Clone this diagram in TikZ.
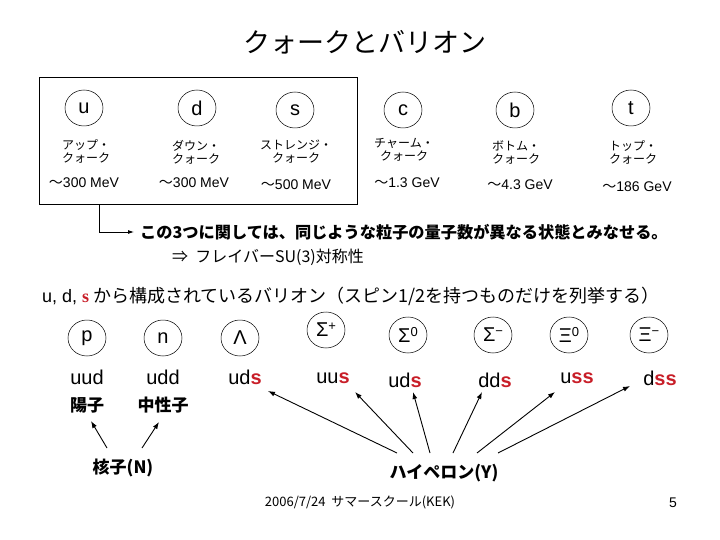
\documentclass[tikz,border=0pt]{standalone}
\usepackage{fontspec}
\setmainfont{Liberation Sans}
\newfontfamily\jp{Noto Sans CJK JP}
\newfontfamily\tms{Liberation Serif}
\usetikzlibrary{shapes.geometric,arrows.meta}
\definecolor{sred}{RGB}{200,30,40}
\newcommand{\rs}[1]{\textcolor{sred}{\bfseries #1}}
\newcommand{\upidx}[1]{\raisebox{6pt}{\fontsize{13}{13}\selectfont #1}}
\tikzset{
  circ/.style={ellipse, draw, line width=0.5pt, minimum width=38pt, minimum height=36pt, inner sep=0pt, font=\fontsize{20}{20}\selectfont},
  qname/.style={align=center, inner sep=0pt, font=\jp\fontsize{12}{13}\selectfont},
  mass/.style={inner sep=0pt, font=\fontsize{14}{14}\selectfont},
  comp/.style={inner sep=0pt, font=\fontsize{20}{20}\selectfont},
  jpb/.style={inner sep=0pt, font=\jp\bfseries\fontsize{17}{17}\selectfont},
  arr/.style={-{Latex[length=7pt,width=5pt]}, line width=0.9pt},
}
\begin{document}
\begin{tikzpicture}[x=1pt,y=-1pt]
\useasboundingbox (0,0) rectangle (720,540);
% title
\node[inner sep=0pt, font=\jp\fontsize{27}{27}\selectfont] (title) at (365,42) {クォークとバリオン};
% box
\node[draw, line width=0.8pt, minimum width=318pt, minimum height=127pt, inner sep=0pt] (qbox) at (198.5,140.5) {};
% quarks
\node[circ] (qu) at (84,108) {u};
\node[circ] (qd) at (197,108) {d};
\node[circ] (qs) at (295,110) {s};
\node[circ] (qc) at (403,110) {c};
\node[circ] (qb) at (515,110) {b};
\node[circ] (qt) at (631,108) {t};
\node[qname] (nu) at (86,151) {アップ・\\クォーク};
\node[qname] (nd) at (196,152) {ダウン・\\クォーク};
\node[qname] (ns) at (296,152) {ストレンジ・\\クォーク};
\node[qname] (nc) at (404,150) {チャーム・\\クォーク};
\node[qname] (nb) at (516,152) {ボトム・\\クォーク};
\node[qname] (nt) at (633,152) {トップ・\\クォーク};
\node[mass] (mu) at (84,183) {{\jp ～}300 MeV};
\node[mass] (md) at (194,183) {{\jp ～}300 MeV};
\node[mass] (ms) at (296,185) {{\jp ～}500 MeV};
\node[mass] (mc) at (407,183) {{\jp ～}1.3 GeV};
\node[mass] (mb) at (520,185) {{\jp ～}4.3 GeV};
\node[mass] (mt) at (637,187) {{\jp ～}186 GeV};
% flavour text
\node[anchor=west, inner sep=0pt, font=\jp\bfseries\fontsize{16.2}{16}\selectfont] (txt1) at (140,232) {この3つに関しては、同じような粒子の量子数が異なる状態とみなせる。};
\node[anchor=west, inner sep=0pt, font=\jp\fontsize{16}{16}\selectfont] (txt2) at (172,257) {⇒\ \ フレイバーSU(3)対称性};
\draw[-{Latex[length=6pt,width=4pt]}, line width=0.8pt, shorten >=6pt] ([xshift=60pt]qbox.south west) |- (txt1.west);
% heading
\node[anchor=west, inner sep=0pt, font=\jp\fontsize{18}{18}\selectfont] (head) at (42,296) {{\rmfamily u, d, }{\tms\bfseries\color{sred}s} から構成されているバリオン（スピン1/2を持つものだけを列挙する）};
% baryons
\node[circ] (bp) at (87,338) {p};
\node[circ] (bn) at (163,338) {n};
\node[circ] (bl) at (240,338) {Λ};
\node[circ] (bsp) at (326,330) {Σ\upidx{+}};
\node[circ] (bs0) at (408,335) {Σ\upidx{0}};
\node[circ] (bsm) at (493,335) {Σ\upidx{−}};
\node[circ] (bx0) at (569,335) {Ξ\upidx{0}};
\node[circ] (bxm) at (649,335) {Ξ\upidx{−}};
\node[comp] (cp) at (87,377) {uud};
\node[comp] (cn) at (163,377) {udd};
\node[comp] (cl) at (245,377) {ud\rs{s}};
\node[comp] (csp) at (333,378) {uu\rs{s}};
\node[comp] (cs0) at (405,380) {ud\rs{s}};
\node[comp] (csm) at (495,380) {dd\rs{s}};
\node[comp] (cx0) at (577,378) {u\rs{ss}};
\node[comp] (cxm) at (660,378) {d\rs{ss}};
\node[jpb] (proton) at (87,405) {陽子};
\node[jpb] (neutron) at (163,405) {中性子};
\node[jpb] (nucl) at (123,468) {核子(N)};
\node[jpb] (hyp) at (444,473) {ハイペロン(Y)};
% nucleon arrows
\draw[arr] ([xshift=-16pt,yshift=20pt]nucl.center) -- ([xshift=4pt,yshift=-16pt]proton.center);
\draw[arr] ([xshift=19pt,yshift=20pt]nucl.center) -- ([xshift=-4pt,yshift=-17pt]neutron.center);
% hyperon arrows
\draw[arr] ([xshift=-47pt,yshift=20pt]hyp.center) -- ([xshift=23pt,yshift=-14pt]cl.center);
\draw[arr] ([xshift=-31pt,yshift=20pt]hyp.center) -- ([xshift=22pt,yshift=-14pt]csp.center);
\draw[arr] ([xshift=-14pt,yshift=20pt]hyp.center) -- ([xshift=8pt,yshift=-12pt]cs0.center);
\draw[arr] ([xshift=9pt,yshift=20pt]hyp.center) -- ([xshift=-13pt,yshift=-12pt]csm.center);
\draw[arr] ([xshift=33pt,yshift=20pt]hyp.center) -- ([xshift=-22pt,yshift=-14pt]cx0.center);
\draw[arr] ([xshift=54pt,yshift=20pt]hyp.center) -- ([xshift=-30pt,yshift=-8pt]cxm.center);
% footer
\node[inner sep=0pt, font=\jp\fontsize{13}{13}\selectfont] (foot) at (360,502) {2006/7/24\ \ サマースクール(KEK)};
\node[inner sep=0pt, font=\fontsize{14}{14}\selectfont] (page) at (673,503) {5};
\end{tikzpicture}
\end{document}
